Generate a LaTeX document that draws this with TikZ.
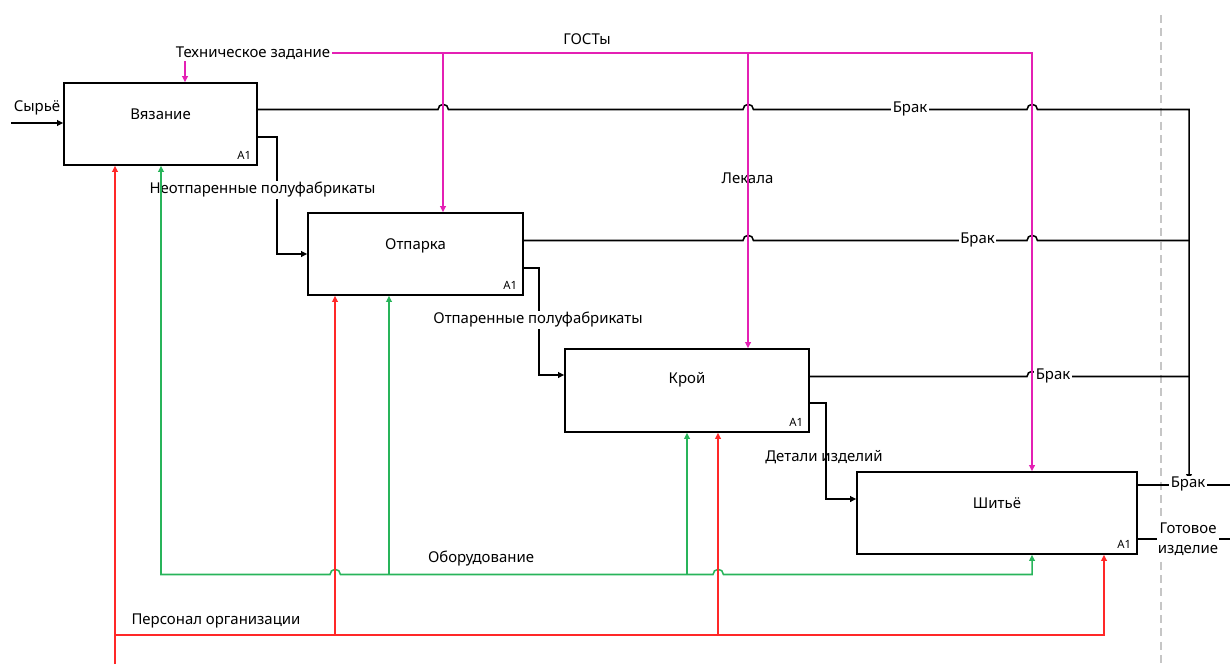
\documentclass[tikz,border=0pt]{standalone}
\usepackage{fontspec}
\setmainfont{Noto Sans}
\usetikzlibrary{arrows.meta}
\definecolor{mag}{RGB}{228,32,180}
\definecolor{redl}{RGB}{255,40,40}
\definecolor{grn}{RGB}{40,180,90}
\newcommand\pxu{0.75pt}
\begin{document}
\begin{tikzpicture}[x=0.75pt,y=-0.75pt, line width=1.15pt,
  >={Triangle[length=4.5pt,width=4.2pt]},
  box/.style={draw, rectangle, inner sep=0pt, line width=1.2pt},
  ttl/.style={font=\fontsize{11.2}{13}\selectfont, inner sep=1pt},
  lbl/.style={font=\fontsize{11.2}{13}\selectfont, inner sep=1pt},
  wlbl/.style={lbl, fill=white},
  aone/.style={font=\bfseries\fontsize{8.5}{10}\selectfont, inner sep=0pt, anchor=south east},
  brr/.style={radius=3.9pt, start angle=180, end angle=0}]
\useasboundingbox (0,0) rectangle (1230,664);

% boxes
\node[box, minimum width=193*\pxu, minimum height=82*\pxu] (b1) at (160.5,124) {};
\node[box, minimum width=215*\pxu, minimum height=82*\pxu] (b2) at (415.5,254) {};
\node[box, minimum width=244*\pxu, minimum height=83*\pxu] (b3) at (687,390.5) {};
\node[box, minimum width=280*\pxu, minimum height=82*\pxu] (b4) at (997,513) {};
\node[ttl] (t1) at (160.5,114) {Вязание};
\node[ttl] (t2) at (415.5,245.5) {Отпарка};
\node[ttl] (t3) at (687,380) {Крой};
\node[ttl] (t4) at (997,503) {Шитьё};
\foreach \b in {b1,b2,b3,b4}
  \node[aone] (a\b) at ([xshift=-6*\pxu, yshift=6*\pxu]\b.south east) {A1};

% dashed boundary
\coordinate (dtop) at (1161,15);
\coordinate (dbot) at (1161,664);
\draw[gray!45, line width=0.8pt, dash pattern=on 6pt off 4pt] (dtop) -- (dbot);

% input
\coordinate (inS) at (11,123);
\draw[->] (inS) -- (b1.west |- 0,123);
\node[lbl] (lsy) at (37,108) {Сырьё};

% flows between boxes
\draw[->] (b1.east |- 0,137) -- (277,137) -- (277,254) -- (b2.west |- 0,254);
\draw[->] (b2.east |- 0,268) -- (539,268) -- (539,375) -- (b3.west |- 0,375);
\draw[->] (b3.east |- 0,403) -- (826,403) -- (826,499) -- (b4.west |- 0,499);

% rejects
\coordinate (brE) at (1189,480);
\draw[->] (b1.east |- 0,109.5) -- (438,109.5) arc[brr] -- (743,109.5) arc[brr]
   -- (1027,109.5) arc[brr] -- (1189,109.5) -- (brE);
\draw (b2.east |- 0,240.5) -- (743,240.5) arc[brr] -- (1027,240.5) arc[brr] -- (1189,240.5);
\draw (b3.east |- 0,376.5) -- (1027,376.5) arc[brr] -- (1189,376.5);
\coordinate (o1) at (1230,485);
\coordinate (o2) at (1230,539);
\draw (b4.east |- 0,485) -- (o1);
\draw (b4.east |- 0,539) -- (o2);

\node[wlbl] (lb1) at (910,109) {Брак};
\node[wlbl] (lb2) at (977.5,240) {Брак};
\node[wlbl] (lb3) at (1053,376) {Брак};
\node[wlbl] (lb4) at (1188,484) {Брак};
\node[wlbl, align=center, font=\fontsize{11.2}{15}\selectfont] (lgi) at (1188,539) {Готовое\\изделие};

\node[wlbl] (lnp) at (262.5,190) {Неотпаренные полуфабрикаты};
\node[wlbl] (lop) at (538,320) {Отпаренные полуфабрикаты};
\node[lbl] (ldi) at (824,457) {Детали изделий};

% controls (magenta)
\node[wlbl] (ltz) at (253,53) {Техническое задание};
\node[lbl] (lgo) at (587,39) {ГОСТы};
\node[lbl] (lle) at (747.5,178) {Лекала};
\draw[mag, ->] (ltz.south -| 185,0) -- (b1.north -| 185,0);
\draw[mag, ->] (ltz.east) -- (1032,53) -- (b4.north -| 1032,0);
\draw[mag, ->] (443,53) -- (b2.north -| 443,0);
\draw[mag, ->] (748,53) -- (b3.north -| 748,0);

% mechanisms (green)
\node[lbl] (lob) at (481,559) {Оборудование};
\draw[grn, <->] (b1.south -| 161,0) -- (161,574.5) -- (330,574.5) arc[brr]
   -- (713,574.5) arc[brr] -- (1032,574.5) -- (b4.south -| 1032,0);
\draw[grn, ->] (389,574.5) -- (b2.south -| 389,0);
\draw[grn, ->] (687,574.5) -- (b3.south -| 687,0);

% mechanisms (red)
\node[lbl] (lpe) at (216,621) {Персонал организации};
\coordinate (rS) at (115,664);
\draw[redl, ->] (rS) -- (b1.south -| 115,0);
\draw[redl, ->] (115,635) -- (1104,635) -- (b4.south -| 1104,0);
\draw[redl, ->] (335,635) -- (b2.south -| 335,0);
\draw[redl, ->] (718,635) -- (b3.south -| 718,0);
\end{tikzpicture}
\end{document}
